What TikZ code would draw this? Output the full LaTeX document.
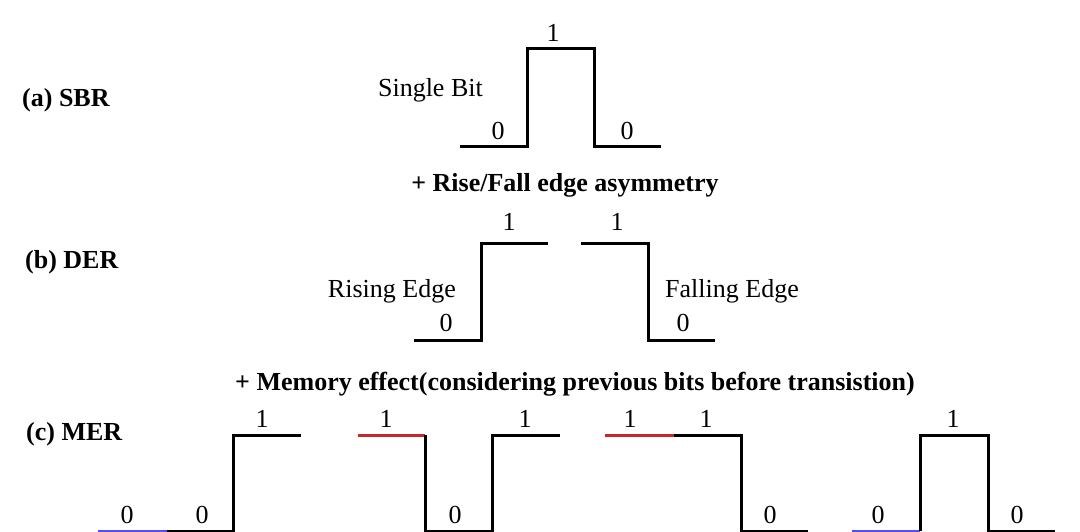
\documentclass[tikz,border=0pt]{standalone}
\usepackage{fontspec}
\setmainfont{Liberation Serif}
\definecolor{wblue}{RGB}{80,80,245}
\definecolor{wred}{RGB}{200,40,42}
\begin{document}
\begin{tikzpicture}[x=1pt,y=-1pt,
  wave/.style={line width=3pt, line join=miter, line cap=butt},
  lbl/.style={font=\fontsize{26}{30}\selectfont, anchor=base, inner sep=0pt},
  lble/.style={lbl, anchor=base east},
  lblw/.style={lbl, anchor=base west},
  ttl/.style={font=\fontsize{26}{30}\selectfont\bfseries, anchor=base west, inner sep=0pt},
  hdr/.style={font=\fontsize{26}{30}\selectfont\bfseries, anchor=base, inner sep=0pt}]
\useasboundingbox (0,0) rectangle (1080,532);

% titles
\node[ttl] (ta) at (22,107) {(a) SBR};
\node[ttl] (tb) at (25,268) {(b) DER};
\node[ttl] (tc) at (26,440) {(c) MER};
\node[hdr] (h1) at (565,192) {+ Rise/Fall edge asymmetry};
\node[hdr] (h2) at (575,390) {+ Memory effect(considering previous bits before transistion)};

% (a) single bit
\draw[wave] (460,147) -- (527,147) -- (527,49) -- (594,49) -- (594,147) -- (661,147);
\node[lbl] (a1) at (553,42) {1};
\node[lbl] (a0l) at (498,140) {0};
\node[lbl] (a0r) at (627,140) {0};
\node[lble] (asb) at (483,97) {Single Bit};

% (b) rising edge
\draw[wave] (414,340) -- (481,340) -- (481,243) -- (548,243);
\node[lbl] (b1l) at (509,230) {1};
\node[lbl] (b0l) at (446,331) {0};
\node[lble] (bre) at (456,297) {Rising Edge};
% (b) falling edge
\draw[wave] (581,243) -- (648,243) -- (648,340) -- (715,340);
\node[lbl] (b1r) at (617,230) {1};
\node[lbl] (b0r) at (683,331) {0};
\node[lblw] (bfe) at (665,297) {Falling Edge};

% (c) waveform 1
\draw[wave, wblue] (98,531) -- (167,531);
\draw[wave] (167,531) -- (233,531) -- (233,435) -- (301,435);
\node[lbl] (c10a) at (127,523) {0};
\node[lbl] (c10b) at (202,523) {0};
\node[lbl] (c11) at (262,427) {1};
% (c) waveform 2
\draw[wave, wred] (358,435) -- (425,435);
\draw[wave] (425,435) -- (425,531) -- (492,531) -- (492,435) -- (560,435);
\node[lbl] (c21a) at (386,427) {1};
\node[lbl] (c20) at (455,523) {0};
\node[lbl] (c21b) at (525,427) {1};
% (c) waveform 3
\draw[wave, wred] (605,435) -- (674,435);
\draw[wave] (674,435) -- (741,435) -- (741,531) -- (808,531);
\node[lbl] (c31a) at (630,427) {1};
\node[lbl] (c31b) at (706,427) {1};
\node[lbl] (c30) at (770,523) {0};
% (c) waveform 4
\draw[wave, wblue] (852,531) -- (920,531);
\draw[wave] (920,531) -- (920,435) -- (988,435) -- (988,531) -- (1055,531);
\node[lbl] (c40a) at (878,523) {0};
\node[lbl] (c41) at (953,427) {1};
\node[lbl] (c40b) at (1017,523) {0};
\end{tikzpicture}
\end{document}
